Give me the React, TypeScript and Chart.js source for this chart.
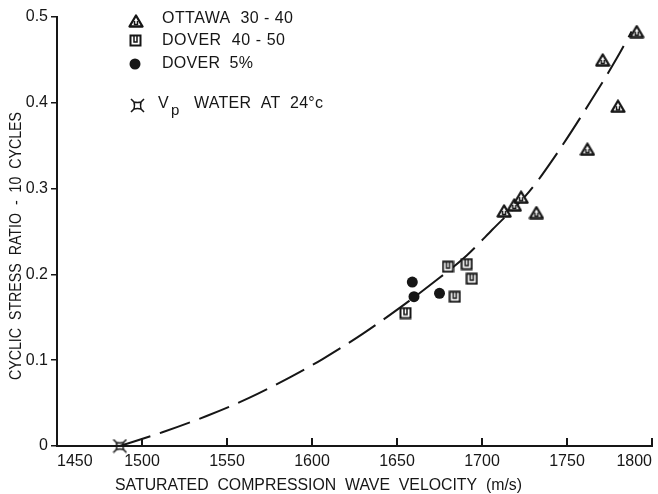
import React, { useEffect, useRef } from 'react';
import { Chart, registerables } from 'chart.js';

Chart.register(...registerables);

const INK = '#161616';
const FONT = "'Liberation Sans', Arial, sans-serif";

// Ottawa sand 30-40
const ottawaVelocity = [1713, 1719, 1723, 1732, 1762, 1771, 1780, 1791];
const ottawaRatio = [0.274, 0.281, 0.29, 0.272, 0.346, 0.45, 0.396, 0.483];

// Dover sand 40-50
const dover4050Velocity = [1655, 1680, 1684, 1691, 1694];
const dover4050Ratio = [0.155, 0.209, 0.174, 0.212, 0.195];

// Dover sand 5%
const dover5Velocity = [1659, 1660, 1675];
const dover5Ratio = [0.191, 0.174, 0.178];

// P-wave velocity of water at 24 °C
const waterVelocity = [1487];
const waterRatio = [0];

// Hand-drawn trend line
const trendVelocity = [1487, 1512, 1538, 1563, 1587, 1606, 1630, 1655, 1675, 1691, 1706, 1728, 1741, 1764, 1779, 1788];
const trendRatio = [0, 0.016, 0.035, 0.056, 0.080, 0.101, 0.131, 0.166, 0.196, 0.222, 0.252, 0.297, 0.332, 0.402, 0.451, 0.483];

const velocityTicks = [1450, 1500, 1550, 1600, 1650, 1700, 1750, 1800];
const ratioTicks = [0, 0.1, 0.2, 0.3, 0.4, 0.5];

const legendLabels = ['OTTAWA  30 - 40', 'DOVER  40 - 50', 'DOVER  5%'];
const xTitle = 'SATURATED  COMPRESSION  WAVE  VELOCITY  (m/s)';
const yTitle = 'CYCLIC  STRESS  RATIO  -  10  CYCLES';

const toPoints = (xs: number[], ys: number[]) => xs.map((x, i) => ({ x, y: ys[i] }));

function makeCanvas(w: number, h: number, draw: (g: CanvasRenderingContext2D) => void) {
  const c = document.createElement('canvas');
  c.width = w;
  c.height = h;
  const g = c.getContext('2d')!;
  g.strokeStyle = INK;
  g.fillStyle = INK;
  draw(g);
  return c;
}

// open triangle with a small mark inside
function triangleMarker() {
  return makeCanvas(16, 14, (g) => {
    g.lineWidth = 2.3;
    g.lineJoin = 'round';
    g.beginPath();
    g.moveTo(8, 1.5);
    g.lineTo(14.5, 12.5);
    g.lineTo(1.5, 12.5);
    g.closePath();
    g.fillStyle = '#fff';
    g.fill();
    g.stroke();
    g.lineWidth = 1.5;
    g.beginPath();
    g.moveTo(6.5, 7);
    g.lineTo(6.5, 10.5);
    g.lineTo(9.5, 10.5);
    g.lineTo(9.5, 7);
    g.stroke();
  });
}

// open square with a small mark inside
function squareMarker() {
  return makeCanvas(13, 13, (g) => {
    g.fillStyle = '#fff';
    g.fillRect(1, 1, 11, 11);
    g.lineWidth = 2;
    g.strokeRect(1.5, 1.5, 10, 10);
    g.lineWidth = 1.5;
    g.beginPath();
    g.moveTo(5, 2);
    g.lineTo(5, 8);
    g.lineTo(8, 8);
    g.lineTo(8, 2);
    g.stroke();
  });
}

// square with spiked corners
function waterMarker() {
  return makeCanvas(15, 15, (g) => {
    g.lineWidth = 1.6;
    g.beginPath();
    g.moveTo(4, 4);
    g.quadraticCurveTo(7.5, 5, 11, 4);
    g.quadraticCurveTo(10, 7.5, 11, 11);
    g.quadraticCurveTo(7.5, 10, 4, 11);
    g.quadraticCurveTo(5, 7.5, 4, 4);
    g.moveTo(1, 1);
    g.lineTo(4, 4);
    g.moveTo(14, 1);
    g.lineTo(11, 4);
    g.moveTo(14, 14);
    g.lineTo(11, 11);
    g.moveTo(1, 14);
    g.lineTo(4, 11);
    g.stroke();
  });
}

function spreadText(ctx: CanvasRenderingContext2D, text: string, x: number, y: number, width: number) {
  (ctx as any).letterSpacing = '0px';
  const natural = ctx.measureText(text).width;
  if (natural >= width) {
    ctx.fillText(text, x, y, width);
    return;
  }
  const extra = (width - natural) / Math.max(1, text.length - 1);
  (ctx as any).letterSpacing = extra + 'px';
  ctx.fillText(text, x, y);
  (ctx as any).letterSpacing = '0px';
}

export default function App() {
  const canvasRef = useRef<HTMLCanvasElement | null>(null);

  useEffect(() => {
    const canvas = canvasRef.current;
    if (!canvas) return;

    const tri = triangleMarker();
    const sq = squareMarker();
    const water = waterMarker();

    const decorations = {
      id: 'decorations',
      afterDraw(chart: any) {
        const ctx: CanvasRenderingContext2D = chart.ctx;
        const xs = chart.scales.x;
        const ys = chart.scales.y;
        ctx.save();

        // tick marks on the velocity axis point up into the plot
        ctx.strokeStyle = INK;
        ctx.lineWidth = 2;
        for (const v of velocityTicks) {
          const px = Math.round(xs.getPixelForValue(v));
          ctx.beginPath();
          ctx.moveTo(px, ys.bottom);
          ctx.lineTo(px, ys.bottom - 8);
          ctx.stroke();
        }

        // legend
        ctx.fillStyle = INK;
        ctx.drawImage(tri, 136 - tri.width / 2, 21 - tri.height / 2);
        ctx.drawImage(sq, 135 - Math.floor(sq.width / 2), 40 - Math.floor(sq.height / 2));
        ctx.beginPath();
        ctx.arc(135, 64, 5.5, 0, Math.PI * 2);
        ctx.fill();
        ctx.drawImage(water, 137 - Math.floor(water.width / 2), 105 - Math.floor(water.height / 2));

        ctx.font = `16px ${FONT}`;
        ctx.textBaseline = 'middle';
        ctx.textAlign = 'left';
        spreadText(ctx, legendLabels[0], 162, 19, 131);
        spreadText(ctx, legendLabels[1], 162, 41, 123);
        spreadText(ctx, legendLabels[2], 162, 64, 91);
        ctx.fillText('V', 158, 104);
        ctx.font = `15px ${FONT}`;
        ctx.fillText('p', 171, 111);
        ctx.font = `16px ${FONT}`;
        spreadText(ctx, 'WATER  AT  24°c', 194, 104, 129);

        // axis titles
        spreadText(ctx, xTitle, 115, 486, 407);
        ctx.translate(17, 246);
        ctx.rotate(-Math.PI / 2);
        spreadText(ctx, yTitle, -134, 0, 268);

        ctx.restore();
      },
    };

    const chart = new Chart(canvas, {
      type: 'scatter',
      data: {
        datasets: [
          {
            type: 'line',
            label: 'trend',
            data: toPoints(trendVelocity, trendRatio),
            borderColor: INK,
            borderWidth: 2,
            borderDash: [32, 10],
            pointRadius: 0,
            cubicInterpolationMode: 'monotone',
            fill: false,
            order: 3,
          } as any,
          {
            label: 'OTTAWA 30 - 40',
            data: toPoints(ottawaVelocity, ottawaRatio),
            pointStyle: tri,
            clip: false,
            order: 1,
          },
          {
            label: 'DOVER 40 - 50',
            data: toPoints(dover4050Velocity, dover4050Ratio),
            pointStyle: sq,
            clip: false,
            order: 1,
          },
          {
            label: 'DOVER 5%',
            data: toPoints(dover5Velocity, dover5Ratio),
            pointStyle: 'circle',
            pointRadius: 5.5,
            backgroundColor: INK,
            borderColor: INK,
            borderWidth: 0,
            clip: false,
            order: 1,
          },
          {
            label: 'Vp WATER AT 24°c',
            data: toPoints(waterVelocity, waterRatio),
            pointStyle: water,
            clip: false,
            order: 0,
          },
        ],
      },
      options: {
        animation: false,
        responsive: false,
        devicePixelRatio: 1,
        layout: { padding: { top: 17, right: 5, left: 0, bottom: 0 } },
        plugins: {
          legend: { display: false },
          tooltip: { enabled: false },
        },
        scales: {
          x: {
            type: 'linear',
            min: 1450,
            max: 1800,
            afterBuildTicks: (scale: any) => {
              scale.ticks = velocityTicks.map((value) => ({ value }));
            },
            afterFit: (scale: any) => {
              scale.height = 48;
            },
            grid: { display: false, drawTicks: false },
            border: { display: true, color: INK, width: 2 },
            ticks: {
              align: 'inner',
              padding: 6,
              color: INK,
              font: { family: FONT, size: 16 },
              maxRotation: 0,
              callback: (v: any) => String(v),
            },
          },
          y: {
            type: 'linear',
            min: 0,
            max: 0.5,
            afterBuildTicks: (scale: any) => {
              scale.ticks = ratioTicks.map((value) => ({ value }));
            },
            afterFit: (scale: any) => {
              scale.width = 57;
            },
            grid: { drawOnChartArea: false, drawTicks: true, tickLength: 6, color: INK, lineWidth: 1.5 },
            border: { display: true, color: INK, width: 2 },
            ticks: {
              padding: 3,
              color: INK,
              font: { family: FONT, size: 16 },
              callback: (v: any) => (Number(v) === 0 ? '0' : Number(v).toFixed(1)),
            },
          },
        },
      } as any,
      plugins: [decorations],
    });

    return () => chart.destroy();
  }, []);

  return (
    <div style={{ position: 'fixed', left: 0, top: 0, width: 658, height: 494, background: '#fff' }}>
      <canvas ref={canvasRef} width={658} height={494} style={{ display: 'block' }} />
    </div>
  );
}
